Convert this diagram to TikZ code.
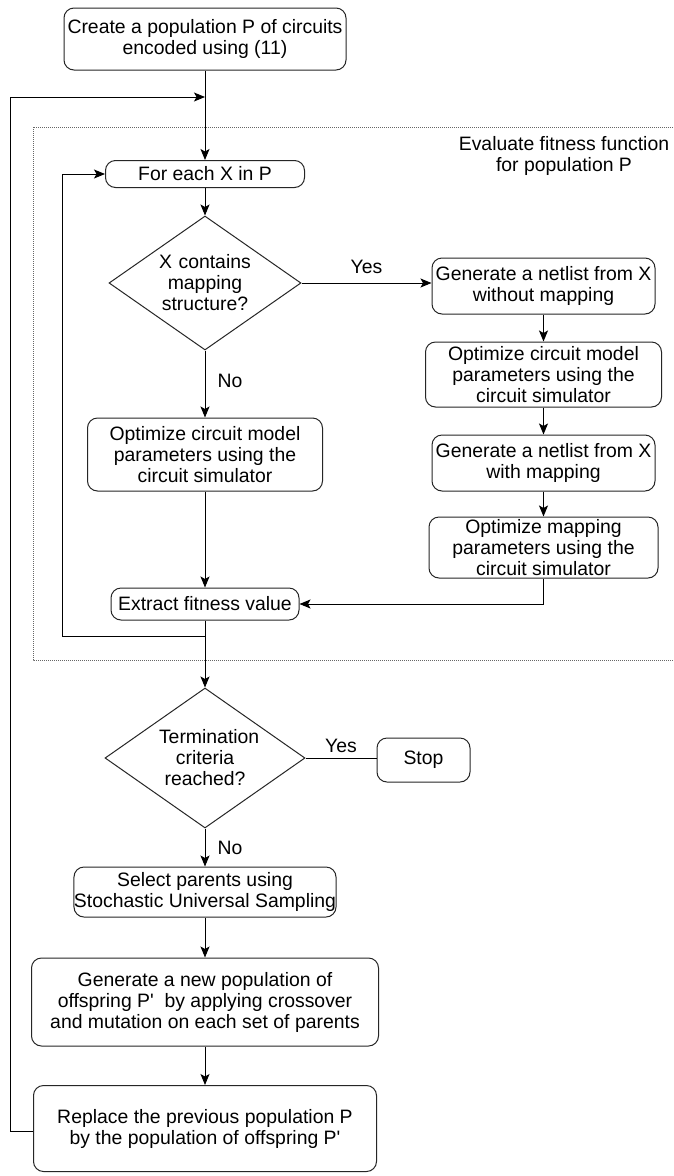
\documentclass[tikz,border=0pt]{standalone}
\usepackage{fontspec}
\setmainfont{Liberation Sans}
\usetikzlibrary{arrows.meta,shapes.geometric}

\newcommand{\flowfont}{\fontsize{19.4}{21}\selectfont}

\tikzset{
  box/.style={draw=black!85, line width=1pt, rounded corners=10pt, align=center,
    inner sep=0pt, font=\flowfont},
  choice/.style={draw=black!85, line width=1pt, shape=diamond, align=center,
    inner sep=0pt, text width=92pt, font=\flowfont},
  flow/.style={line width=1pt, draw=black},
  arr/.style={flow, -{Stealth[length=11pt,width=9pt,inset=2.5pt]}},
  lbl/.style={font=\flowfont, inner sep=0pt},
}

\begin{document}
\begin{tikzpicture}[x=1pt,y=-1pt]
\useasboundingbox (0,0) rectangle (673,1176);
\fill[white] (0,0) rectangle (673,1176);

% fitness evaluation frame
\draw[black!60, line width=1pt, dash pattern=on 1pt off 1pt] (33,127) rectangle (700,660);
\node[lbl, align=center] (evaltxt) at (564,156) {Evaluate fitness function\\for population P};

% main column
\node[box, minimum width=282pt, minimum height=62pt] (top) at (205,39)
  {Create a population P of circuits\\encoded using (11)};
\node[box, minimum width=199pt, minimum height=27pt] (foreach) at (205,174)
  {For each X in P};
\node[choice, aspect=1.43, minimum width=192pt, minimum height=134pt] (d1) at (205,283)
  {X contains\\mapping\\structure?};
\node[box, minimum width=235pt, minimum height=73pt] (leftopt) at (205,454.5)
  {Optimize circuit model\\parameters using the\\circuit simulator};
\node[box, minimum width=188pt, minimum height=32pt] (extract) at (205,604)
  {Extract fitness value};

% mapping branch
\node[box, minimum width=223pt, minimum height=56pt] (r1) at (543.5,286)
  {Generate a netlist from X\\without mapping};
\node[box, minimum width=236pt, minimum height=65pt] (r2) at (543.5,374.5)
  {Optimize circuit model\\parameters using the\\circuit simulator};
\node[box, minimum width=223pt, minimum height=56pt] (r3) at (543.5,463)
  {Generate a netlist from X\\with mapping};
\node[box, minimum width=229pt, minimum height=61pt] (r4) at (543.5,547.5)
  {Optimize mapping\\parameters using the\\circuit simulator};

% termination and next generation
\node[choice, aspect=1.43, minimum width=200pt, minimum height=140pt] (d2) at (205,758)
  {Termination\\criteria\\reached?};
\node[box, minimum width=93pt, minimum height=44pt] (stop) at (423.5,760) {Stop};
\node[box, minimum width=260pt, minimum height=50pt] (select) at (205,892)
  {Select parents using\\Stochastic Universal Sampling};
\node[box, minimum width=347pt, minimum height=88pt] (gen) at (205,1002)
  {Generate a new population of\\offspring P\textquotesingle\ \ by applying crossover\\and mutation on each set of parents};
\node[box, minimum width=343pt, minimum height=86pt] (repl) at (205,1128.5)
  {Replace the previous population P\\by the population of offspring P\textquotesingle};

% loop corner points
\coordinate (merge) at (205,97);
\coordinate (innerL) at (62,636);
\coordinate (outerL) at (10,1131);

% connectors
\draw[arr] (top.south) -- (foreach.north);
\draw[arr] (foreach.south) -- (d1.north);
\draw[arr] (d1.east) -- node[lbl, above=9pt] {Yes} (r1.west |- d1.east);
\draw[arr] (d1.south) -- node[lbl, right=12pt, pos=0.45] {No} (leftopt.north);
\draw[arr] (r1.south) -- (r2.north);
\draw[arr] (r2.south) -- (r3.north);
\draw[arr] (r3.south) -- (r4.north);
\draw[arr] (leftopt.south) -- (extract.north);
\draw[arr] (r4.south) |- (extract.east);
\draw[arr] (extract.south) |- (innerL) |- (foreach.west);
\draw[arr] (extract.south) -- (d2.north);
\draw[flow] (d2.east) -- node[lbl, above=5pt, pos=0.5] {Yes} (stop.west |- d2.east);
\draw[arr] (d2.south) -- node[lbl, right=12pt, pos=0.5] {No} (select.north);
\draw[arr] (select.south) -- (gen.north);
\draw[arr] (gen.south) -- (repl.north);
\draw[arr] (repl.west |- outerL) -- (outerL) |- (merge);
\end{tikzpicture}
\end{document}
